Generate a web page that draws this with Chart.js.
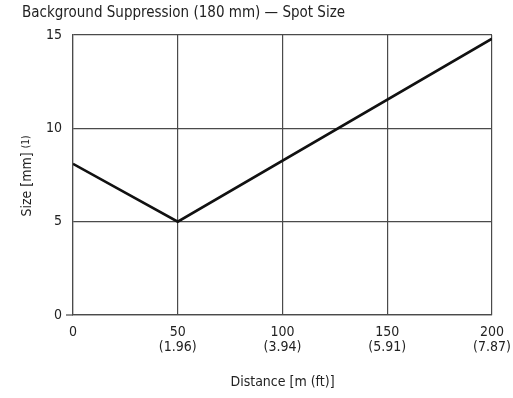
<!DOCTYPE html>
<html>
<head>
<meta charset="utf-8">
<script src="https://cdn.jsdelivr.net/npm/chart.js@4/dist/chart.umd.min.js"></script>
<style>
  html, body { margin: 0; padding: 0; background: #fff; }
  #wrap { width: 513px; height: 398px; position: relative; }
</style>
</head>
<body>
<div id="wrap"><canvas id="c" width="513" height="398"></canvas></div>
<script>
// ---- data ----
const chartTitle = 'Background Suppression (180 mm) — Spot Size';
const distances = [0, 50, 200];          // m
const spotSizes = [8.1, 5.0, 14.8];      // mm
const xTickMeters = [0, 50, 100, 150, 200];
const xTickFeet = ['', '(1.96)', '(3.94)', '(5.91)', '(7.87)'];
const yTicks = [0, 5, 10, 15];
const xTitle = 'Distance [m (ft)]';
const yTitle = 'Size [mm]';
const yTitleNote = '(1)';

const FONT = "'Liberation Sans Narrow', 'DejaVu Sans Condensed', 'Arial Narrow', sans-serif";
const GRID = '#4a4a4a';
const TEXT = '#222';

const extrasPlugin = {
  id: 'customText',
  afterDraw(chart) {
    const ctx = chart.ctx;
    const area = chart.chartArea;
    ctx.save();
    // short extension of the baseline to the left of the plot
    ctx.strokeStyle = GRID;
    ctx.lineWidth = 1.2;
    ctx.beginPath();
    ctx.moveTo(area.left - 7, area.bottom);
    ctx.lineTo(area.left, area.bottom);
    ctx.stroke();
    // title
    ctx.fillStyle = TEXT;
    ctx.font = '15px ' + FONT;
    ctx.textAlign = 'left';
    ctx.textBaseline = 'middle';
    ctx.fillText(chartTitle, 22, 13);
    // y axis title with note
    const big = '14px ' + FONT, small = '10px ' + FONT;
    ctx.font = big;
    const w1 = ctx.measureText(yTitle).width;
    ctx.font = small;
    const w2 = ctx.measureText(yTitleNote).width;
    const gap = 4;
    const total = w1 + gap + w2;
    const cy = (area.top + area.bottom) / 2 + 1;
    ctx.translate(27, cy);
    ctx.rotate(-Math.PI / 2);
    ctx.textAlign = 'left';
    ctx.textBaseline = 'middle';
    ctx.font = big;
    ctx.fillText(yTitle, -total / 2, 0);
    ctx.font = small;
    ctx.fillText(yTitleNote, -total / 2 + w1 + gap, -1);
    ctx.restore();
  }
};

new Chart(document.getElementById('c'), {
  type: 'line',
  data: {
    datasets: [{
      data: distances.map((d, i) => ({ x: d, y: spotSizes[i] })),
      borderColor: '#111',
      borderWidth: 2.6,
      pointRadius: 0,
      tension: 0,
      fill: false
    }]
  },
  options: {
    responsive: false,
    animation: false,
    layout: { padding: { top: 35, right: 21, bottom: 0, left: 0 } },
    plugins: { legend: { display: false }, title: { display: false }, tooltip: { enabled: false } },
    scales: {
      x: {
        type: 'linear',
        min: 0, max: 200,
        afterBuildTicks: (s) => { s.ticks = xTickMeters.map(v => ({ value: v })); },
        afterFit: (s) => { s.height = 83; s.paddingRight = 0; s.paddingLeft = 0; },
        grid: { color: GRID, lineWidth: 1.2, drawTicks: false },
        border: { color: GRID, width: 1.2 },
        ticks: {
          color: TEXT,
          font: { family: FONT, size: 14, lineHeight: 1.05 },
          padding: 10,
          maxRotation: 0,
          autoSkip: false,
          callback: (v) => {
            const i = xTickMeters.indexOf(v);
            return xTickFeet[i] ? [String(v), xTickFeet[i]] : String(v);
          }
        },
        title: {
          display: true, text: xTitle, color: TEXT,
          font: { family: FONT, size: 14 },
          padding: { top: 0, bottom: 7 }
        }
      },
      y: {
        min: 0, max: 15,
        afterBuildTicks: (s) => { s.ticks = yTicks.map(v => ({ value: v })); },
        afterFit: (s) => { s.width = 73; s.paddingTop = 0; s.paddingBottom = 0; },
        grid: { color: GRID, lineWidth: 1.2, drawTicks: false },
        border: { color: GRID, width: 1.2 },
        ticks: {
          color: TEXT,
          font: { family: FONT, size: 14 },
          padding: 11
        },
        title: { display: false }
      }
    }
  },
  plugins: [extrasPlugin]
});
</script>
</body>
</html>
